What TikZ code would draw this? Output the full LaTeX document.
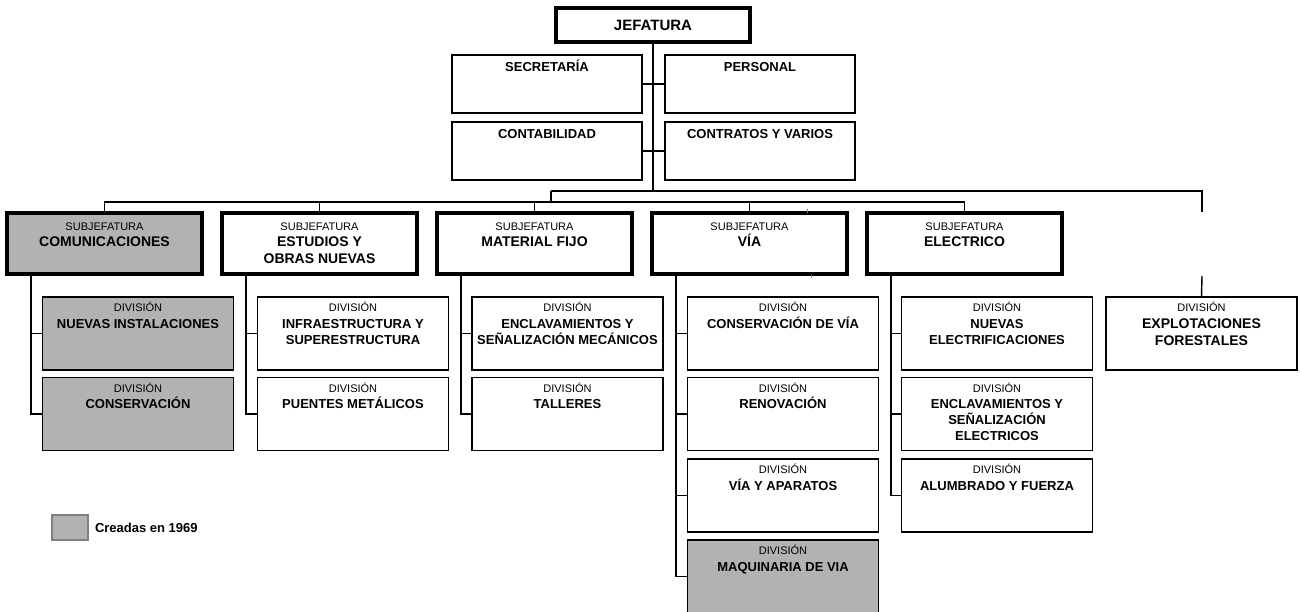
\documentclass[tikz,border=0pt]{standalone}
\usepackage{fontspec}
\setmainfont{Liberation Sans}
\definecolor{newgray}{RGB}{178,178,178}
\definecolor{legendedge}{RGB}{128,128,128}
\definecolor{tealmark}{RGB}{0,190,150}
\tikzset{
  every node/.style={inner sep=0pt, outer sep=0pt},
  jbox/.style={draw, line width=3.2pt, minimum width=194pt, minimum height=34pt,
    font=\fontsize{15}{18}\selectfont\bfseries},
  tbox/.style={draw, line width=1.3pt, minimum width=190pt, minimum height=58pt},
  sbox/.style={draw, line width=3.2pt, minimum width=195pt, minimum height=61pt},
  dbox/.style={draw, line width=1.4pt, minimum width=191pt, minimum height=73pt},
  newunit/.style={fill=newgray},
  oldunit/.style={fill=white},
  lbl/.style={anchor=base, font=\fontsize{11}{13}\selectfont},
  ttxt/.style={anchor=base, font=\fontsize{13}{16}\selectfont\bfseries},
  dtxt/.style={anchor=base, align=center, font=\fontsize{13}{16}\selectfont\bfseries},
  stxt/.style={anchor=base, align=center, font=\fontsize{14}{17}\selectfont\bfseries},
  conn/.style={line width=1.4pt},
}
% #1 name, #2 x, #3 y, #4 fill style, #5 baseline of last line below top, #6 text
\newcommand\mkdiv[6]{%
  \node[dbox,#4] (#1) at (#2,#3) {};
  \node[lbl] (#1a) at ([yshift=-14.5pt]#1.north) {DIVISIÓN};
  \node[dtxt] (#1b) at ([yshift=-#5pt]#1.north) {#6};}
\newcommand\mksub[5]{%
  \node[sbox,#3] (#1) at (#2,243.5) {};
  \node[lbl] (#1a) at ([yshift=-17pt]#1.north) {SUBJEFATURA};
  \node[stxt] (#1b) at ([yshift=-#4pt]#1.north) {#5};}
\begin{document}
\begin{tikzpicture}[x=1pt,y=-1pt]
\useasboundingbox (0,0) rectangle (1301,611);
\clip (0,0) rectangle (1301,611);
\fill[white] (0,0) rectangle (1301,611);

% Jefatura and staff units
\node[jbox] (jef) at (653,25) {JEFATURA};
\node[tbox] (sec) at (547,84) {};
\node[tbox] (per) at (760,84) {};
\node[tbox] (cnt) at (547,151) {};
\node[tbox] (ctr) at (760,151) {};
\node[ttxt] (sect) at ([yshift=-16pt]sec.north) {SECRETARÍA};
\node[ttxt] (pert) at ([yshift=-16pt]per.north) {PERSONAL};
\node[ttxt] (cntt) at ([yshift=-16pt]cnt.north) {CONTABILIDAD};
\node[ttxt] (ctrt) at ([yshift=-16pt]ctr.north) {CONTRATOS Y VARIOS};

% Subjefaturas
\mksub{s1}{104.5}{newunit}{33}{COMUNICACIONES}
\mksub{s2}{319.5}{oldunit}{50}{ESTUDIOS Y\\OBRAS NUEVAS}
\mksub{s3}{534.5}{oldunit}{33}{MATERIAL FIJO}
\mksub{s4}{749.5}{oldunit}{33}{VÍA}
\mksub{s5}{964.5}{oldunit}{33}{ELECTRICO}

% Divisions
\mkdiv{d11}{138}{333.5}{newunit}{31}{NUEVAS INSTALACIONES}
\mkdiv{d12}{138}{414}{newunit}{31}{CONSERVACIÓN}
\mkdiv{d21}{353}{333.5}{oldunit}{47}{INFRAESTRUCTURA Y\\SUPERESTRUCTURA}
\mkdiv{d22}{353}{414}{oldunit}{31}{PUENTES METÁLICOS}
\mkdiv{d31}{567.5}{333.5}{oldunit}{47}{ENCLAVAMIENTOS Y\\SEÑALIZACIÓN MECÁNICOS}
\mkdiv{d32}{567.5}{414}{oldunit}{31}{TALLERES}
\mkdiv{d41}{783}{333.5}{oldunit}{31}{CONSERVACIÓN DE VÍA}
\mkdiv{d42}{783}{414}{oldunit}{31}{RENOVACIÓN}
\mkdiv{d43}{783}{495.5}{oldunit}{31}{VÍA Y APARATOS}
\mkdiv{d44}{783}{576.5}{newunit}{31}{MAQUINARIA DE VIA}
\mkdiv{d51}{997}{333.5}{oldunit}{47}{NUEVAS\\ELECTRIFICACIONES}
\mkdiv{d52}{997}{414}{oldunit}{63}{ENCLAVAMIENTOS Y\\SEÑALIZACIÓN\\ELECTRICOS}
\mkdiv{d53}{997}{495.5}{oldunit}{31}{ALUMBRADO Y FUERZA}
\node[dbox,oldunit] (ex) at (1201.5,333.5) {};
\node[lbl] (exa) at ([yshift=-14.5pt]ex.north) {DIVISIÓN};
\node[stxt] (exb) at ([yshift=-48pt]ex.north) {EXPLOTACIONES\\FORESTALES};

% Trunk connectors
\coordinate (t1) at (653,191);
\coordinate (t2) at (551,191);
\coordinate (t3) at (1202,191);
\coordinate (t4) at (551,202);
\coordinate (t5) at (1202,212);
\coordinate (t6) at (1202,276);
\draw[conn] (jef) -- (t1);
\draw[conn] (sec) -- (per);
\draw[conn] (cnt) -- (ctr);
\draw[conn] (t2) -- (t3) -- (t5);
\draw[conn] (t6) -- (ex.north);
\draw[conn] (t2) -- (t4);
\draw[conn] (s1.north) -- (s1.north |- t4) -- (s5.north |- t4) -- (s5.north);
\foreach \s in {s2,s3,s4} { \draw[conn] (\s.north) -- (\s.north |- t4); }

% Division connectors
\foreach \s/\k in {s1/1,s2/2,s3/3,s4/4,s5/5} { \coordinate (b\k) at ([xshift=24pt]\s.south west); }
\draw[conn] (b1) |- (d12.west);
\draw[conn] (b1 |- d11.west) -- (d11.west);
\draw[conn] (b2) |- (d22.west);
\draw[conn] (b2 |- d21.west) -- (d21.west);
\draw[conn] (b3) |- (d32.west);
\draw[conn] (b3 |- d31.west) -- (d31.west);
\draw[conn] (b4) |- (d44.west);
\foreach \d in {d41,d42,d43} { \draw[conn] (b4 |- \d.west) -- (\d.west); }
\draw[conn] (b5) |- (d53.west);
\foreach \d in {d51,d52} { \draw[conn] (b5 |- \d.west) -- (\d.west); }

% small teal marks
\draw[tealmark, line width=1pt] (807,209) -- (807,213);
\draw[tealmark, line width=1pt] (811,275) -- (811,278);

% Legend
\node[draw=legendedge, fill=newgray, line width=1.5pt, minimum width=36pt, minimum height=25pt] (leg) at (70,527.5) {};
\node[anchor=base west, font=\fontsize{13}{16}\selectfont\bfseries] (legt) at (95,532) {Creadas en 1969};
\end{tikzpicture}
\end{document}
